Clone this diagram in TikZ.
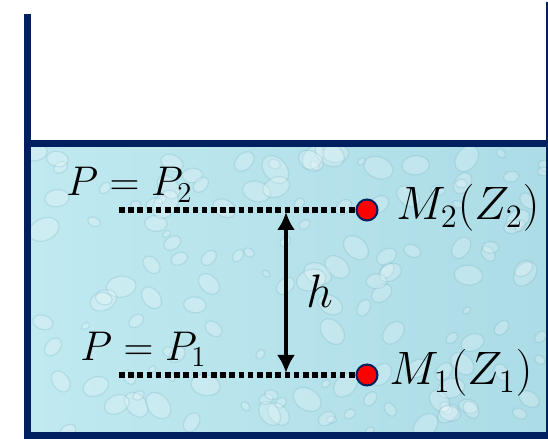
\documentclass[tikz,border=0pt]{standalone}
\usepackage{graphicx}
\usetikzlibrary{arrows.meta,positioning}
\definecolor{tanknavy}{RGB}{0,32,96}
\definecolor{waterblue}{RGB}{172,220,230}
\definecolor{waterlight}{RGB}{192,233,240}
\definecolor{dropedge}{RGB}{90,160,180}
\newcommand{\ptbig}[1]{\scalebox{1.13}{#1}}
\tikzset{
  tank wall/.style={fill=tanknavy},
  water/.style={left color=waterlight, right color=waterblue},
  drop/.style={fill=white, fill opacity=0.22, draw=dropedge, draw opacity=0.2, line width=0.6pt},
  level line/.style={line width=2.6pt, dash pattern=on 2.8pt off 1.8pt, black},
  point mark/.style={circle, fill=red, draw=tanknavy, line width=1pt,
    minimum size=10.5pt, inner sep=0pt},
  height arrow/.style={{Latex[length=9pt,width=9pt]}-{Latex[length=9pt,width=9pt]}, line width=2.2pt},
  eq label/.style={font=\fontsize{20.74}{25}\selectfont, inner sep=0pt},
}

\begin{document}
\begin{tikzpicture}[x=0.5pt,y=-0.5pt]
  \useasboundingbox (0,0) rectangle (548,439);

  % water with a droplet texture
  \fill[water] (31,147) rectangle (546,432);
  \begin{scope}
    \clip (31,147) rectangle (546,432);
    \pgfmathsetseed{17}
    \foreach \k in {1,...,140}{
      \pgfmathsetmacro{\dx}{31+515*rnd}
      \pgfmathsetmacro{\dy}{147+285*rnd}
      \pgfmathsetmacro{\dr}{4+12*rnd}
      \pgfmathsetmacro{\da}{-60+120*rnd}
      \draw[drop, rotate around={\da:(\dx,\dy)}] (\dx,\dy) ellipse [x radius=\dr, y radius=0.7*\dr];
    }
  \end{scope}

  % tank walls and water surface
  \fill[tank wall] (24,14) rectangle (31,439);
  \fill[tank wall] (24,432) rectangle (548,439);
  \fill[tank wall] (31,140) rectangle (546,147);
  \fill[tank wall] (546,2) rectangle (548,439);

  % points and levels
  \node[point mark] (m2) at (367,210) {};
  \node[point mark] (m1) at (367,375) {};
  \coordinate (l2) at (119,210);
  \coordinate (l1) at (119,375);
  \draw[level line] (l2) -- (m2.west);
  \draw[level line] (l1) -- (m1.west);

  \coordinate (h2) at (286,212);
  \coordinate (h1) at (286,373);
  \draw[height arrow] (h1) -- (h2);

  % labels
  \node[eq label, anchor=base west] (p2lab) at (66,196) {$P = P_2$};
  \node[eq label, anchor=base west] (p1lab) at (80,360) {$P = P_1$};
  \node[eq label, anchor=base west] (m2lab) at (396,220) {\ptbig{$M_2(Z_2)$}};
  \node[eq label, anchor=base west] (m1lab) at (389,385) {\ptbig{$M_1(Z_1)$}};
  \node[eq label, anchor=base west] (hlab) at (306,307) {\ptbig{$h$}};
\end{tikzpicture}
\end{document}
